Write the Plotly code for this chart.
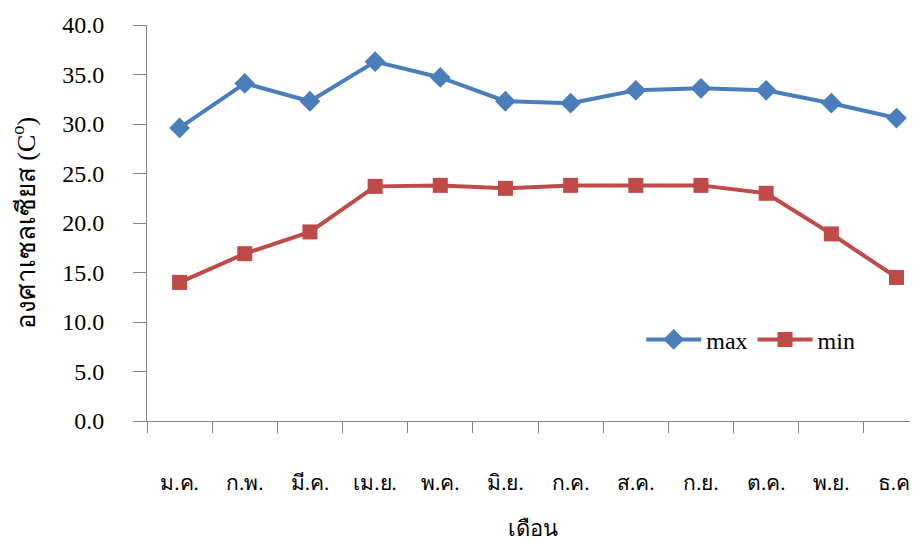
import plotly.graph_objects as go

months = ["ม.ค.", "ก.พ.", "มี.ค.", "เม.ย.", "พ.ค.", "มิ.ย.", "ก.ค.", "ส.ค.", "ก.ย.", "ต.ค.", "พ.ย.", "ธ.ค."]
t_max = [29.6, 34.1, 32.3, 36.3, 34.7, 32.3, 32.1, 33.4, 33.6, 33.4, 32.1, 30.6]
t_min = [14.0, 16.9, 19.1, 23.7, 23.8, 23.5, 23.8, 23.8, 23.8, 23.0, 18.9, 14.5]
y_ticks = [0, 5, 10, 15, 20, 25, 30, 35, 40]

serif = "Liberation Serif, Times New Roman, serif"

fig = go.Figure()
fig.add_trace(go.Scatter(
    x=months, y=t_max, name="max", mode="lines+markers",
    line=dict(color="#4A7EBB", width=4),
    marker=dict(symbol="diamond", size=16, color="#4A7EBB"),
))
fig.add_trace(go.Scatter(
    x=months, y=t_min, name="min", mode="lines+markers",
    line=dict(color="#BE4B48", width=4),
    marker=dict(symbol="square", size=15, color="#BE4B48"),
))

fig.update_layout(
    width=910, height=533,
    margin=dict(l=139, r=0, t=17, b=120),
    paper_bgcolor="white", plot_bgcolor="white",
    font=dict(family=serif, color="black", size=18),
    legend=dict(orientation="h", x=0.641, y=0.205, xanchor="left", yanchor="middle",
                font=dict(family=serif, size=24), bgcolor="rgba(0,0,0,0)",
                itemwidth=55, tracegroupgap=0),
    showlegend=True,
)
fig.update_xaxes(
    type="category", range=[-0.5, 11.33],
    showline=True, linecolor="#868686", linewidth=1,
    ticks="outside", tickson="boundaries", ticklen=11, tickcolor="#868686",
    showgrid=False, zeroline=False,
    tickfont=dict(size=21), ticklabelstandoff=43,
    title=dict(text="เดือน", font=dict(size=22), standoff=26),
)
fig.update_yaxes(
    range=[0, 40], tickvals=y_ticks, ticktext=[f"{v:.1f}" for v in y_ticks],
    showline=True, linecolor="#868686", linewidth=1,
    ticks="outside", ticklen=13, tickcolor="#868686",
    showgrid=False, zeroline=False,
    tickfont=dict(size=24), ticklabelstandoff=24,
    title=dict(text="องศาเซลเซียส (C<sup>o</sup>)", font=dict(size=26), standoff=24),
)

fig.write_html("out.html")
